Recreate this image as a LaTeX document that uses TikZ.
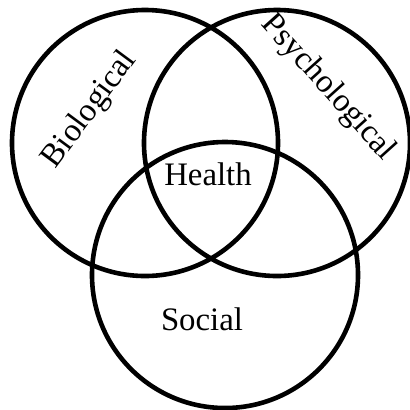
\documentclass[tikz,border=0pt]{standalone}
\usepackage{fontspec}
\setmainfont{Liberation Serif}
\begin{document}
\begin{tikzpicture}[x=0.5pt, y=-0.5pt, line width=2.3pt,
    every node/.style={font=\fontsize{16.4}{19}\selectfont, inner sep=0pt}]
                \useasboundingbox (0, 0) rectangle (410, 409);
                \fill[white] (0, 0) rectangle (410, 409);
                \draw (145, 143) circle[radius=133];
                \draw (277, 143) circle[radius=133];
                \draw (225, 275) circle[radius=133];
                \node[rotate=53.5] (bio) at (90, 110) {Biological};
                \node[rotate=-48] (psy) at (328, 88) {Psychological};
                \node (health) at (208, 174) {Health};
                \node (social) at (202, 319) {Social};
            \end{tikzpicture}
\end{document}
